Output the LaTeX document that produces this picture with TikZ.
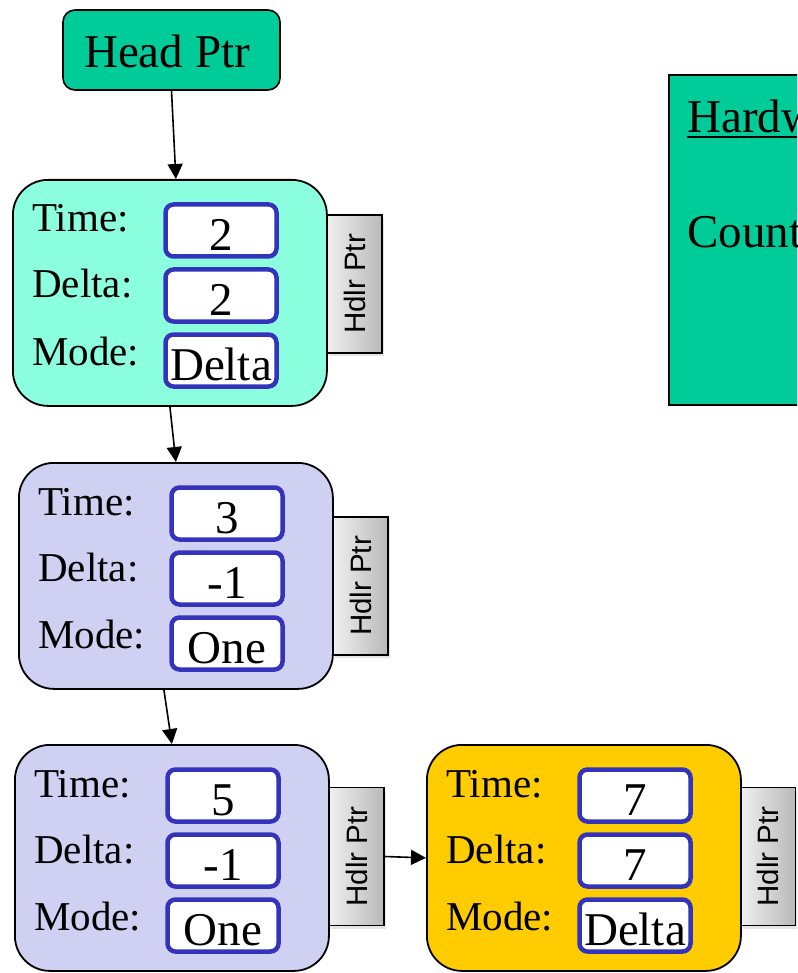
\documentclass[tikz,border=0pt]{standalone}
\usepackage{fontspec}
\setmainfont{Liberation Serif}
\setsansfont{Liberation Sans}
\usetikzlibrary{calc,arrows.meta,shadows}
\definecolor{teal1}{HTML}{00CC99}
\definecolor{aqua1}{HTML}{8CFFDE}
\definecolor{lav}{HTML}{D0D0F2}
\definecolor{gold1}{HTML}{FFCC00}
\definecolor{vblue}{HTML}{3333BB}
\tikzset{
 recbox/.style={draw=black, line width=1.8pt, rounded corners=35pt, minimum width=314pt, minimum height=226pt, anchor=north west, inner sep=0pt},
 valbox/.style={draw=vblue, line width=4.5pt, fill=white, rounded corners=8pt, minimum width=111pt, minimum height=52pt, inner sep=0pt},
 lbl/.style={anchor=base west, inner sep=0pt, font=\fontsize{41}{41}\selectfont},
 valtxt/.style={anchor=base, inner sep=0pt, font=\fontsize{47}{47}\selectfont},
 hdlr/.style={draw=black, line width=1.6pt, left color=gray!12, right color=gray!55, minimum width=55pt, minimum height=138pt, inner sep=0pt, drop shadow={shadow xshift=2pt, shadow yshift=-3pt, opacity=0.2}},
 hdlrtxt/.style={rotate=90, inner sep=0pt, font=\sffamily\fontsize{29.5}{29.5}\selectfont},
 bigtxt/.style={inner sep=0pt, font=\fontsize{47}{47}\selectfont},
 arr/.style={line width=1.6pt, -{Triangle[length=15pt,width=15pt]}},
}
\newcommand\timernode[7]{%
 \node[recbox, fill=#4] (#1) at (#2,#3) {};
 \node[valbox] (#1t) at ($(#1.north west)+(209,51.5)$) {};
 \node[valbox] (#1d) at ($(#1.north west)+(209,116.5)$) {};
 \node[valbox] (#1m) at ($(#1.north west)+(209,181.5)$) {};
 \node[lbl] (#1lt) at ($(#1.north west)+(20,53)$) {Time:};
 \node[lbl] (#1ld) at ($(#1.north west)+(20,119)$) {Delta:};
 \node[lbl] (#1lm) at ($(#1.north west)+(20,186)$) {Mode:};
 \node[valtxt] (#1vt) at ([yshift=8pt]#1t.south) {#5};
 \node[valtxt] (#1vd) at ([yshift=8pt]#1d.south) {#6};
 \node[valtxt] (#1vm) at ([yshift=8pt]#1m.south) {#7};
}
\begin{document}
\begin{tikzpicture}[x=1pt,y=-1pt]
\useasboundingbox (0,0) rectangle (797,973);
\clip (0,0) rectangle (797,973);
\fill[white] (0,0) rectangle (797,973);
% head pointer
\node[draw=black, line width=1.6pt, fill=teal1, rounded corners=12pt, minimum width=217pt, minimum height=80pt, inner sep=0pt] (hp) at (171.5,50) {};
\node[bigtxt, anchor=base] (hptxt) at (167,68) {Head Ptr};
% hardware box
\node[draw=black, line width=2.2pt, fill=teal1, minimum width=180pt, minimum height=330pt, anchor=north west, inner sep=0pt] (hw) at (668,74) {};
\node[bigtxt, anchor=base west] (hwtxt) at (687,133) {Hardware};
\draw[line width=2pt] ([yshift=-4pt]hwtxt.base west) -- ([yshift=-4pt]hwtxt.base east);
\node[bigtxt, anchor=base west] (cnt) at (687,248) {Count};
% handler pointer boxes
\node[hdlr] (h1) at (354.5,284) {};
\node[hdlrtxt] at (h1) {Hdlr Ptr};
\node[hdlr] (h2) at (360.5,586) {};
\node[hdlrtxt] at (h2) {Hdlr Ptr};
\node[hdlr] (h3) at (356.5,856.5) {};
\node[hdlrtxt] at (h3) {Hdlr Ptr};
\node[hdlr] (h4) at (768,856.5) {};
\node[hdlrtxt] at (h4) {Hdlr Ptr};
% timer nodes
\timernode{n1}{12}{179}{aqua1}{2}{2}{Delta}
\timernode{n2}{18}{462}{lav}{3}{-1}{One}
\timernode{n3}{14}{744}{lav}{5}{-1}{One}
\timernode{n4}{426}{744}{gold1}{7}{7}{Delta}
% connectors
\draw[arr] (hp.south) -- ($(n1.north)+(6,0)$);
\draw[arr] (n1.south) -- (n2.north);
\draw[arr] ($(n2.south)+(-12,0)$) -- (n3.north);
\draw[arr] (h3.east) -- (n4.west);
\end{tikzpicture}
\end{document}
